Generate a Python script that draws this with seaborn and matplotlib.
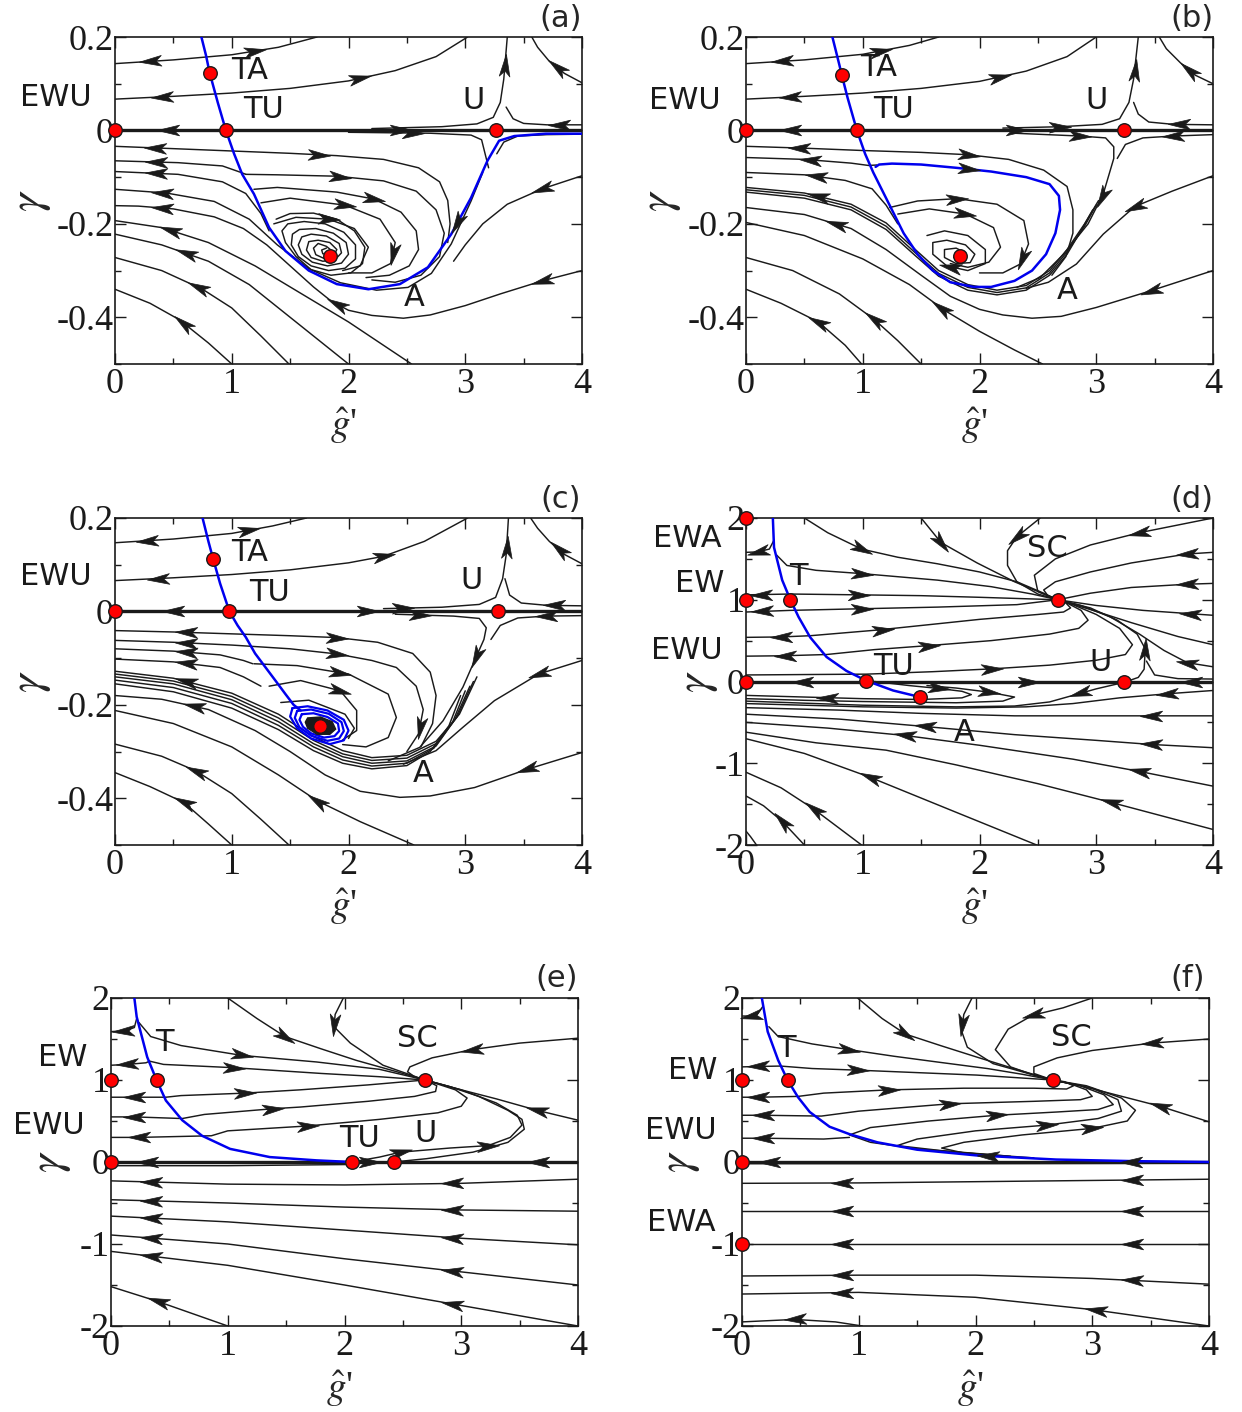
import numpy as np
import pandas as pd
import matplotlib
matplotlib.use("Agg")
import matplotlib.pyplot as plt
import seaborn as sns
from matplotlib.markers import MarkerStyle
from matplotlib.path import Path
from matplotlib.transforms import Affine2D
from matplotlib.ticker import MultipleLocator

sns.set_theme(style="ticks")
plt.rcParams["font.family"] = ["DejaVu Sans"]
plt.rcParams["mathtext.fontset"] = "stix"
plt.rcParams["axes.edgecolor"] = "black"

# ---------------------------------------------------------------- data
# each line: (points, arrows) ; arrow = (x, y, +1 along point order / -1 against)
X_TICKS = [0, 1, 2, 3, 4]
X_TICK_LABELS = ["0", "1", "2", "3", "4"]
Y_TICKS_SMALL = [-0.4, -0.2, 0, 0.2]
Y_TICK_LABELS_SMALL = ["-0.4", "-0.2", "0", "0.2"]
Y_TICKS_BIG = [-2, -1, 0, 1, 2]
Y_TICK_LABELS_BIG = ["-2", "-1", "0", "1", "2"]

# ---------------- panel (a)
A_FIXED_X = [0, 0.95, 0.81, 3.26, 1.84]
A_FIXED_Y = [0, 0, 0.124, 0, -0.268]
A_BLUE = [(0.74, 0.2), (0.78, 0.16), (0.81, 0.124), (0.88, 0.06), (0.95, 0), (1.02, -0.05), (1.09, -0.094),
          (1.19, -0.136), (1.32, -0.208), (1.46, -0.258), (1.66, -0.30), (1.9, -0.329), (2.17, -0.34),
          (2.44, -0.329), (2.68, -0.293), (2.88, -0.222), (3.05, -0.144), (3.19, -0.065), (3.29, -0.022),
          (3.42, -0.012), (3.69, -0.007), (4.0, -0.007)]
A_BLUE_ARROWS = [(2.93, -0.197, -1)]
A_AXIS = [([(0, 0), (4, 0)], [(0.45, 0, -1), (2.45, 0, 1)])]
A_SPIRAL = [(1.38, -0.19), (1.5, -0.178), (1.7, -0.177), (1.9, -0.19), (2.05, -0.215), (2.14, -0.25),
            (2.12, -0.285), (2.02, -0.305), (1.85, -0.31), (1.68, -0.298), (1.55, -0.27), (1.46, -0.24),
            (1.43, -0.215), (1.48, -0.2), (1.62, -0.195), (1.8, -0.2), (1.96, -0.218), (2.06, -0.245),
            (2.06, -0.275), (1.97, -0.295), (1.83, -0.3), (1.68, -0.29), (1.57, -0.27), (1.51, -0.245),
            (1.52, -0.222), (1.58, -0.212), (1.72, -0.21), (1.87, -0.22), (1.98, -0.24), (2.0, -0.265),
            (1.94, -0.284), (1.82, -0.29), (1.69, -0.282), (1.6, -0.265), (1.57, -0.245), (1.6, -0.228),
            (1.68, -0.222), (1.81, -0.226), (1.92, -0.242), (1.94, -0.262), (1.88, -0.278), (1.78, -0.28),
            (1.68, -0.272), (1.64, -0.256), (1.66, -0.238), (1.74, -0.235), (1.84, -0.24), (1.9, -0.255),
            (1.87, -0.27), (1.79, -0.274), (1.72, -0.266), (1.7, -0.252), (1.74, -0.242), (1.81, -0.248),
            (1.86, -0.258), (1.83, -0.266), (1.78, -0.264), (1.77, -0.256), (1.81, -0.252)]
A_LINES = [
    ([(0, 0.143), (0.5, 0.151), (1.0, 0.162), (1.4, 0.178), (1.73, 0.2)], [(0.3, 0.147, -1), (1.2, 0.17, 1)]),
    ([(0, 0.067), (0.5, 0.073), (1.0, 0.08), (1.5, 0.09), (2.0, 0.106), (2.4, 0.128), (2.75, 0.158), (3.02, 0.2)],
     [(0.4, 0.072, -1), (2.1, 0.11, 1)]),
    ([(2.2, 0.004), (2.8, 0.008), (3.1, 0.014), (3.24, 0.028), (3.3, 0.06), (3.33, 0.11), (3.36, 0.2)],
     [(3.34, 0.14, 1)]),
    ([(4, 0.012), (3.7, 0.012), (3.5, 0.015), (3.41, 0.025), (3.35, 0.05)], [(3.8, 0.012, 1)]),
    ([(2.0, -0.004), (2.7, -0.006), (3.05, -0.01), (3.14, -0.02), (3.17, -0.05), (3.2, -0.08)], [(2.55, -0.006, 1)]),
    ([(4, -0.008), (3.7, -0.009), (3.45, -0.012), (3.33, -0.025), (3.27, -0.05)], []),
    ([(4, 0.102), (3.85, 0.122), (3.72, 0.148), (3.62, 0.178), (3.57, 0.2)], [(3.78, 0.133, 1)]),
    ([(4, -0.097), (3.66, -0.125), (3.36, -0.158), (3.15, -0.2), (3.0, -0.245), (2.9, -0.28)], [(3.66, -0.125, 1)]),
    ([(4, -0.30), (3.66, -0.322), (3.3, -0.35), (3.0, -0.375), (2.7, -0.395), (2.47, -0.402), (2.2, -0.396),
      (2.0, -0.385), (1.85, -0.365), (1.7, -0.335), (1.5, -0.29), (1.3, -0.245), (1.1, -0.21), (0.85, -0.185),
      (0.5, -0.168), (0.2, -0.162), (0, -0.161)], [(3.66, -0.322, 1), (1.9, -0.372, 1), (0.4, -0.166, 1)]),
    ([(0, -0.126), (0.44, -0.134), (0.85, -0.152), (1.15, -0.19), (1.39, -0.245), (1.66, -0.296), (1.93, -0.326),
      (2.24, -0.342), (2.51, -0.336), (2.71, -0.306), (2.88, -0.243), (3.05, -0.151), (3.15, -0.09)],
     [(0.4, -0.133, -1)]),
    ([(0, -0.088), (0.54, -0.094), (0.92, -0.11), (1.12, -0.135), (1.25, -0.178), (1.32, -0.215)], [(0.35, -0.092, -1)]),
    ([(0, -0.065), (0.54, -0.069), (0.92, -0.076), (1.08, -0.09), (1.12, -0.094)], [(0.35, -0.067, -1)]),
    ([(0, -0.034), (0.5, -0.039), (1.0, -0.044), (1.5, -0.049), (1.9, -0.054), (2.3, -0.062), (2.6, -0.08),
      (2.78, -0.11), (2.85, -0.15), (2.87, -0.2), (2.85, -0.24)], [(0.34, -0.037, -1), (1.75, -0.052, 1)]),
    ([(1.12, -0.094), (1.39, -0.095), (1.9, -0.098), (2.3, -0.108), (2.58, -0.13), (2.75, -0.17), (2.82, -0.22),
      (2.78, -0.27), (2.62, -0.31), (2.4, -0.325), (2.2, -0.32)], [(1.93, -0.098, 1)]),
    ([(1.19, -0.126), (1.39, -0.122), (1.9, -0.132), (2.22, -0.147), (2.45, -0.175), (2.58, -0.215), (2.6, -0.255),
      (2.52, -0.29), (2.35, -0.31), (2.15, -0.315)], [(2.22, -0.147, 1)]),
    ([(1.25, -0.155), (1.5, -0.145), (1.97, -0.16), (2.27, -0.19), (2.4, -0.24), (2.36, -0.285), (2.2, -0.305),
      (2.0, -0.305)], [(1.97, -0.16, 1), (2.37, -0.265, 1)]),
    ([(1.36, -0.2), (1.55, -0.186), (1.83, -0.19), (2.05, -0.21), (2.17, -0.25), (2.1, -0.29), (1.95, -0.3)],
     [(1.83, -0.19, 1)]),
    (A_SPIRAL, []),
    ([(0, -0.193), (0.4, -0.208), (0.8, -0.24), (1.2, -0.29), (1.6, -0.35), (2.0, -0.41), (2.3, -0.46), (2.54, -0.5)],
     [(0.47, -0.212, -1)]),
    ([(0, -0.222), (0.4, -0.245), (0.8, -0.28), (1.15, -0.33), (1.45, -0.39), (1.75, -0.45), (2.0, -0.5)],
     [(0.61, -0.26, -1)]),
    ([(0, -0.272), (0.4, -0.30), (0.75, -0.34), (1.0, -0.38), (1.25, -0.44), (1.49, -0.5)], [(0.71, -0.335, -1)]),
    ([(0, -0.34), (0.3, -0.37), (0.55, -0.405), (0.8, -0.455), (1.0, -0.5)], [(0.59, -0.41, -1)]),
]
A_LABELS = [("TA", 1.15, 0.129), ("TU", 1.27, 0.044), ("U", 3.07, 0.065), ("EWU", -0.51, 0.071), ("A", 2.56, -0.357)]

# ---------------- panel (b)
B_FIXED_X = [0, 0.95, 0.82, 3.24, 1.83]
B_FIXED_Y = [0, 0, 0.119, 0, -0.268]
B_BLUE = [(0.74, 0.2), (0.8, 0.14), (0.82, 0.119), (0.87, 0.07), (0.95, 0), (1.02, -0.05), (1.09, -0.09),
          (1.17, -0.13), (1.25, -0.17), (1.35, -0.22), (1.47, -0.265), (1.6, -0.3), (1.75, -0.325), (1.95, -0.335),
          (2.1, -0.335), (2.3, -0.322), (2.45, -0.3), (2.57, -0.265), (2.65, -0.22), (2.69, -0.17), (2.68, -0.14),
          (2.6, -0.115), (2.4, -0.1), (2.1, -0.088), (1.8, -0.08), (1.5, -0.073), (1.25, -0.071), (1.14, -0.073),
          (1.11, -0.078)]
B_BLUE_ARROWS = [(1.91, -0.082, -1)]
B_AXIS = [([(0, 0), (4, 0)], [(0.38, 0, -1), (2.32, 0, 1)])]
B_LINES = [
    ([(0, 0.143), (0.5, 0.151), (1.0, 0.163), (1.4, 0.182), (1.65, 0.2)], [(0.31, 0.148, -1), (1.16, 0.17, 1)]),
    ([(0, 0.067), (0.5, 0.073), (1.0, 0.08), (1.5, 0.09), (2.0, 0.105), (2.4, 0.127), (2.75, 0.158), (3.0, 0.2)],
     [(0.38, 0.072, -1), (2.18, 0.113, 1)]),
    ([(2.2, 0.005), (2.7, 0.008), (3.05, 0.013), (3.2, 0.025), (3.28, 0.06), (3.32, 0.11), (3.36, 0.2)],
     [(2.69, 0.008, 1), (3.33, 0.13, 1)]),
    ([(4, 0.012), (3.66, 0.013), (3.45, 0.018), (3.36, 0.035), (3.32, 0.06)], [(3.71, 0.013, 1)]),
    ([(2.3, -0.006), (2.86, -0.012), (3.08, -0.016), (3.15, -0.035), (3.15, -0.06), (3.06, -0.136), (2.93, -0.2),
      (2.72, -0.265), (2.52, -0.315), (2.32, -0.336)], [(2.86, -0.012, 1), (3.05, -0.143, 1)]),
    ([(4, -0.009), (3.66, -0.012), (3.4, -0.016), (3.25, -0.03), (3.18, -0.06)], [(3.66, -0.012, 1)]),
    ([(4, 0.1), (3.85, 0.118), (3.72, 0.145), (3.6, 0.175), (3.54, 0.2)], [(3.78, 0.126, 1)]),
    ([(4, -0.097), (3.65, -0.13), (3.33, -0.163), (3.06, -0.222), (2.83, -0.286), (2.59, -0.325), (2.4, -0.338)],
     [(3.33, -0.163, 1)]),
    ([(4, -0.3), (3.47, -0.343), (3.0, -0.379), (2.7, -0.398), (2.45, -0.402), (2.2, -0.395), (2.0, -0.383),
      (1.75, -0.355), (1.5, -0.31), (1.2, -0.255), (0.9, -0.21), (0.5, -0.18), (0, -0.165)],
     [(3.47, -0.343, 1), (0.77, -0.2, 1)]),
    ([(0, -0.197), (0.5, -0.225), (1.0, -0.275), (1.4, -0.33), (1.7, -0.385), (2.0, -0.43), (2.3, -0.47), (2.54, -0.5)],
     [(1.67, -0.38, -1)]),
    ([(0, -0.272), (0.4, -0.3), (0.8, -0.35), (1.1, -0.405), (1.3, -0.45), (1.5, -0.5)], [(1.09, -0.405, -1)]),
    ([(0, -0.34), (0.3, -0.37), (0.62, -0.41), (0.85, -0.46), (0.99, -0.5)], [(0.62, -0.41, -1)]),
    ([(0, -0.034), (0.5, -0.038), (1.0, -0.043), (1.5, -0.047), (1.9, -0.052), (2.25, -0.062), (2.55, -0.085),
      (2.75, -0.12), (2.8, -0.17), (2.8, -0.22), (2.74, -0.27), (2.62, -0.31)], [(0.45, -0.038, -1), (1.91, -0.052, 1)]),
    ([(0, -0.058), (0.5, -0.062), (0.9, -0.07), (1.05, -0.075), (1.12, -0.074)], [(0.55, -0.062, -1)]),
    ([(0, -0.09), (0.5, -0.095), (0.85, -0.107), (1.08, -0.125), (1.2, -0.16), (1.3, -0.2)], [(0.6, -0.097, -1)]),
    ([(0, -0.122), (0.5, -0.134), (0.9, -0.158), (1.2, -0.198), (1.45, -0.255), (1.65, -0.3), (1.9, -0.33),
      (2.15, -0.342), (2.4, -0.332), (2.6, -0.3), (2.75, -0.255), (2.9, -0.2), (3.02, -0.15)], [(0.62, -0.14, -1)]),
    ([(0, -0.127), (0.5, -0.139), (0.9, -0.164), (1.2, -0.205), (1.45, -0.262), (1.65, -0.306), (1.9, -0.336),
      (2.15, -0.347), (2.4, -0.337), (2.6, -0.305), (2.75, -0.26), (2.9, -0.205), (3.0, -0.16)], []),
    ([(0, -0.132), (0.5, -0.145), (0.9, -0.17), (1.2, -0.212), (1.45, -0.268), (1.65, -0.312), (1.9, -0.342),
      (2.15, -0.352), (2.4, -0.342), (2.6, -0.31), (2.75, -0.265), (2.88, -0.21), (2.97, -0.17)], []),
    ([(1.23, -0.165), (1.47, -0.151), (1.81, -0.146), (2.15, -0.158), (2.38, -0.193), (2.42, -0.243), (2.35, -0.286),
      (2.2, -0.305), (2.0, -0.305)], [(1.81, -0.146, 1), (2.37, -0.275, 1)]),
    ([(1.3, -0.179), (1.57, -0.168), (1.88, -0.179), (2.12, -0.208), (2.18, -0.25), (2.08, -0.282), (1.9, -0.293),
      (1.75, -0.285)], [(1.88, -0.179, 1)]),
    ([(1.55, -0.225), (1.7, -0.215), (1.9, -0.225), (2.05, -0.255), (2.05, -0.285), (1.9, -0.3), (1.72, -0.29),
      (1.6, -0.265), (1.6, -0.24), (1.72, -0.235), (1.88, -0.245), (1.96, -0.265), (1.92, -0.283), (1.8, -0.285),
      (1.7, -0.272), (1.7, -0.255), (1.8, -0.252), (1.88, -0.262), (1.85, -0.275), (1.78, -0.272)],
     [(1.75, -0.29, 1)]),
]
B_LABELS = [("TA", 1.14, 0.134), ("TU", 1.26, 0.044), ("U", 3.0, 0.065), ("EWU", -0.52, 0.065), ("A", 2.75, -0.342)]

# ---------------- panel (c)
C_FIXED_X = [0, 0.98, 0.84, 3.28, 1.76]
C_FIXED_Y = [0, 0, 0.113, 0, -0.246]
C_BLUE = [(0.75, 0.2), (0.8, 0.15), (0.84, 0.113), (0.9, 0.06), (0.98, 0), (1.05, -0.03), (1.12, -0.055),
          (1.2, -0.09), (1.29, -0.12), (1.38, -0.15), (1.46, -0.177), (1.53, -0.2), (1.59, -0.212)]
C_BLUE_LOOPS = [
    [(1.52, -0.207), (1.65, -0.203), (1.82, -0.212), (1.96, -0.232), (2.0, -0.255), (1.96, -0.276), (1.84, -0.284),
     (1.68, -0.272), (1.56, -0.25), (1.5, -0.225), (1.52, -0.207)],
    [(1.56, -0.213), (1.68, -0.21), (1.83, -0.219), (1.94, -0.237), (1.96, -0.256), (1.92, -0.272), (1.82, -0.277),
     (1.68, -0.266), (1.58, -0.248), (1.54, -0.228), (1.56, -0.213)],
    [(1.6, -0.22), (1.7, -0.218), (1.82, -0.226), (1.91, -0.24), (1.92, -0.256), (1.88, -0.267), (1.79, -0.27),
     (1.68, -0.261), (1.61, -0.247), (1.58, -0.232), (1.6, -0.22)],
]
C_CORE = [(1.65, -0.228), (1.76, -0.226), (1.86, -0.236), (1.89, -0.252), (1.84, -0.263), (1.73, -0.263),
          (1.65, -0.25), (1.63, -0.237), (1.65, -0.228)]
C_AXIS = [([(0, 0), (4, 0)], [(0.5, 0, -1), (2.17, 0, 1)])]
C_LINES = [
    ([(0, 0.147), (0.5, 0.155), (1.0, 0.167), (1.35, 0.183), (1.64, 0.2)], [(0.27, 0.151, -1), (1.15, 0.172, 1)]),
    ([(0, 0.066), (0.5, 0.072), (1.0, 0.079), (1.5, 0.089), (2.0, 0.104), (2.3, 0.118), (2.65, 0.15), (3.02, 0.2)],
     [(0.37, 0.071, -1), (2.3, 0.118, 1)]),
    ([(2.3, 0.006), (2.8, 0.009), (3.12, 0.015), (3.26, 0.03), (3.32, 0.07), (3.35, 0.12), (3.37, 0.2)],
     [(2.47, 0.008, 1), (3.36, 0.138, 1)]),
    ([(4, 0.012), (3.7, 0.013), (3.48, 0.018), (3.38, 0.035), (3.34, 0.07)], [(3.76, 0.013, 1)]),
    ([(2.4, -0.006), (2.9, -0.01), (3.12, -0.015), (3.18, -0.035), (3.16, -0.06), (3.08, -0.105), (2.98, -0.162),
      (2.81, -0.234), (2.61, -0.291), (2.34, -0.32)], [(2.61, -0.008, 1), (3.1, -0.098, 1)]),
    ([(4, -0.009), (3.69, -0.01), (3.45, -0.014), (3.3, -0.03), (3.22, -0.06)], [(3.69, -0.01, 1)]),
    ([(4, 0.102), (3.85, 0.122), (3.72, 0.15), (3.62, 0.178), (3.56, 0.2)], [(3.78, 0.127, 1)]),
    ([(4, -0.105), (3.63, -0.134), (3.25, -0.191), (2.98, -0.248), (2.75, -0.298), (2.47, -0.327)],
     [(3.63, -0.134, 1)]),
    ([(4, -0.302), (3.53, -0.338), (3.08, -0.377), (2.7, -0.395), (2.44, -0.398), (2.1, -0.385), (1.8, -0.35),
      (1.5, -0.3), (1.2, -0.255), (0.8, -0.21), (0.4, -0.188), (0, -0.18)], [(3.53, -0.338, 1), (0.68, -0.2, 1)]),
    ([(0, -0.212), (0.5, -0.24), (1.0, -0.29), (1.4, -0.35), (1.73, -0.405), (2.1, -0.45), (2.56, -0.5)],
     [(1.73, -0.405, -1)]),
    ([(0, -0.284), (0.4, -0.31), (0.69, -0.341), (1.0, -0.39), (1.25, -0.445), (1.49, -0.5)], [(0.69, -0.341, -1)]),
    ([(0, -0.345), (0.3, -0.375), (0.59, -0.409), (0.8, -0.455), (1.0, -0.5)], [(0.59, -0.409, -1)]),
    ([(0, -0.041), (0.5, -0.044), (1.0, -0.048), (1.5, -0.052), (1.9, -0.056), (2.25, -0.066), (2.55, -0.09),
      (2.7, -0.13), (2.75, -0.18), (2.72, -0.24), (2.62, -0.29)], [(0.61, -0.044, -1), (1.9, -0.056, 1)]),
    ([(0, -0.062), (0.5, -0.066), (1.0, -0.072), (1.5, -0.08), (1.9, -0.091), (2.2, -0.105), (2.41, -0.12),
      (2.58, -0.16), (2.64, -0.21), (2.6, -0.262), (2.5, -0.3)], [(0.61, -0.065, -1), (1.9, -0.091, 1), (2.6, -0.25, 1)]),
    ([(0, -0.08), (0.5, -0.085), (0.9, -0.093), (1.1, -0.105), (1.18, -0.112)], [(0.61, -0.085, -1)]),
    ([(0, -0.102), (0.5, -0.108), (0.9, -0.12), (1.1, -0.14), (1.25, -0.16)], [(0.61, -0.108, -1)]),
    ([(1.19, -0.112), (1.56, -0.116), (2.0, -0.134), (2.34, -0.177), (2.41, -0.227), (2.34, -0.27), (2.15, -0.29),
      (1.95, -0.285)], [(1.93, -0.13, 1)]),
    ([(1.32, -0.16), (1.59, -0.148), (1.93, -0.17), (2.07, -0.212), (2.07, -0.255), (1.95, -0.275)],
     [(1.93, -0.17, 1)]),
    ([(1.42, -0.195), (1.66, -0.19), (1.97, -0.22), (2.05, -0.25), (2.0, -0.272)], []),
    ([(0, -0.128), (0.5, -0.143), (1.0, -0.175), (1.4, -0.22), (1.7, -0.268), (1.95, -0.298), (2.2, -0.313),
      (2.5, -0.308), (2.75, -0.278), (2.95, -0.22), (3.1, -0.14)], [(0.61, -0.146, -1)]),
    ([(0, -0.134), (0.5, -0.149), (1.0, -0.182), (1.4, -0.228), (1.7, -0.276), (1.95, -0.305), (2.2, -0.319),
      (2.5, -0.314), (2.75, -0.283), (2.93, -0.226), (3.07, -0.15)], []),
    ([(0, -0.14), (0.5, -0.155), (1.0, -0.189), (1.4, -0.236), (1.7, -0.283), (1.95, -0.311), (2.2, -0.325),
      (2.5, -0.32), (2.75, -0.288), (2.91, -0.232), (3.04, -0.16)], []),
    ([(0, -0.147), (0.5, -0.163), (1.0, -0.197), (1.4, -0.244), (1.7, -0.29), (1.95, -0.318), (2.2, -0.331),
      (2.5, -0.325), (2.73, -0.293), (2.89, -0.238), (3.0, -0.17)], []),
    ([(0, -0.155), (0.5, -0.172), (1.0, -0.207), (1.4, -0.253), (1.7, -0.298), (1.95, -0.325), (2.2, -0.337),
      (2.5, -0.33), (2.7, -0.3), (2.86, -0.245), (2.96, -0.18)], []),
]
C_LABELS = [("TA", 1.15, 0.127), ("TU", 1.32, 0.041), ("U", 3.05, 0.067), ("EWU", -0.51, 0.074), ("A", 2.64, -0.346)]

# ---------------- panel (d)
D_FIXED_X = [0, 0, 0.38, 0, 1.03, 1.49, 2.67, 3.24]
D_FIXED_Y = [2, 1, 1, 0, 0.01, -0.19, 1, -0.01]
D_BLUE = [(0.23, 2.0), (0.24, 1.64), (0.31, 1.24), (0.38, 1.0), (0.45, 0.79), (0.55, 0.54), (0.69, 0.30),
          (0.86, 0.13), (1.03, 0.01), (1.26, -0.11), (1.49, -0.19)]
D_BLUE_ARROWS = []
D_AXIS = [([(0, 0), (4, 0)], [(0.48, 0, -1), (2.42, 0, 1), (3.81, 0, -1)])]
D_LINES = [
    ([(0.24, 1.73), (0.2, 1.62), (0.1, 1.585), (0, 1.58)], [(0.1, 1.585, 1)]),
    ([(0.5, 2.0), (0.7, 1.82), (0.99, 1.62), (1.3, 1.52), (1.64, 1.44), (2.0, 1.34), (2.32, 1.22), (2.55, 1.08),
      (2.67, 1.0)], [(0.99, 1.62, 1)]),
    ([(0.26, 1.55), (0.35, 1.42), (0.6, 1.36), (0.99, 1.32), (1.64, 1.24), (2.1, 1.16), (2.45, 1.07), (2.67, 1.0)],
     [(0.99, 1.32, 1)]),
    ([(0, 1.06), (0.38, 1.07), (0.97, 1.06), (1.5, 1.05), (2.0, 1.03), (2.67, 1.0)], [(0.13, 1.065, -1), (0.97, 1.06, 1)]),
    ([(0, 0.85), (0.38, 0.87), (0.99, 0.89), (1.64, 0.91), (2.32, 0.94), (2.67, 1.0)], [(0.14, 0.855, -1), (0.99, 0.89, 1)]),
    ([(0, 0.54), (0.3, 0.545), (0.55, 0.56), (1.13, 0.63), (1.6, 0.7), (2.0, 0.76), (2.5, 0.82), (2.72, 0.85),
      (2.78, 0.9), (2.74, 0.96), (2.67, 1.0)], [(0.3, 0.545, -1), (1.17, 0.635, 1)]),
    ([(0, 0.31), (0.33, 0.315), (0.69, 0.33), (1.1, 0.39), (1.57, 0.44), (2.1, 0.5), (2.6, 0.58), (2.85, 0.65),
      (2.93, 0.75), (2.87, 0.87), (2.75, 0.96), (2.67, 1.0)], [(0.33, 0.315, -1), (1.57, 0.44, 1)]),
    ([(0, 0.08), (0.5, 0.085), (1.03, 0.09), (1.6, 0.12), (2.11, 0.155), (2.6, 0.2), (3.0, 0.26), (3.25, 0.33),
      (3.31, 0.45), (3.2, 0.65), (3.0, 0.82), (2.8, 0.94), (2.67, 1.0)], [(2.11, 0.155, 1)]),
    ([(3.26, 0.0), (3.36, 0.05), (3.41, 0.15), (3.42, 0.4), (3.35, 0.58), (3.18, 0.75), (2.95, 0.9), (2.67, 1.0)],
     [(3.42, 0.4, 1)]),
    ([(4, 0.03), (3.7, 0.035), (3.5, 0.08), (3.43, 0.25)], []),
    ([(4, 0.18), (3.78, 0.23), (3.58, 0.38), (3.37, 0.58), (3.12, 0.79), (2.87, 0.93), (2.67, 1.0)], [(3.78, 0.23, 1)]),
    ([(4, 0.45), (3.7, 0.55), (3.3, 0.72), (2.95, 0.88), (2.67, 1.0)], []),
    ([(4, 0.81), (3.8, 0.83), (3.4, 0.87), (3.0, 0.93), (2.67, 1.0)], [(3.8, 0.83, 1)]),
    ([(4, 1.2), (3.78, 1.19), (3.3, 1.15), (2.95, 1.08), (2.67, 1.0)], [(3.78, 1.19, 1)]),
    ([(4, 1.58), (3.78, 1.56), (3.3, 1.45), (2.95, 1.34), (2.65, 1.22), (2.55, 1.12), (2.59, 1.04), (2.67, 1.0)],
     [(3.78, 1.56, 1)]),
    ([(4, 2.0), (3.37, 1.82), (2.95, 1.67), (2.65, 1.5), (2.47, 1.3), (2.5, 1.1), (2.67, 1.0)], [(3.37, 1.82, 1)]),
    ([(2.52, 2.0), (2.32, 1.77), (2.24, 1.6), (2.24, 1.42), (2.32, 1.22), (2.5, 1.07), (2.67, 1.0)], [(2.32, 1.77, 1)]),
    ([(1.5, 2.0), (1.67, 1.7), (1.98, 1.45), (2.3, 1.22), (2.67, 1.0)], [(1.67, 1.7, 1)]),
    ([(1.1, 0.0), (1.4, -0.05), (1.65, -0.085), (1.85, -0.12), (1.93, -0.16), (1.85, -0.2), (1.5, -0.22),
      (1.0, -0.21), (0.5, -0.19), (0, -0.17)], [(1.65, -0.085, 1), (0.69, -0.198, 1)]),
    ([(1.55, -0.05), (1.8, -0.08), (2.08, -0.13), (2.3, -0.19), (2.2, -0.24), (1.8, -0.26), (1.0, -0.245),
      (0.5, -0.23), (0, -0.21)], [(2.08, -0.13, 1)]),
    ([(3.24, -0.01), (3.0, -0.09), (2.8, -0.17), (2.6, -0.25), (2.3, -0.3), (1.8, -0.31), (1.0, -0.29),
      (0.4, -0.26), (0, -0.24)], [(2.86, -0.15, 1)]),
    ([(4, -0.11), (3.61, -0.15), (3.2, -0.2), (2.8, -0.27), (2.4, -0.31), (1.8, -0.325), (1.0, -0.31), (0, -0.27)],
     [(3.61, -0.15, 1)]),
    ([(4, -0.42), (3.47, -0.42), (3.0, -0.42), (2.3, -0.42), (1.5, -0.39), (0.8, -0.35), (0, -0.32)],
     [(3.47, -0.42, 1)]),
    ([(4, -0.81), (3.47, -0.77), (3.0, -0.72), (2.3, -0.65), (1.53, -0.55), (0.8, -0.46), (0, -0.40)],
     [(3.47, -0.77, 1), (1.53, -0.55, 1)]),
    ([(4, -1.28), (3.37, -1.1), (2.8, -0.95), (2.0, -0.78), (1.36, -0.66), (0.7, -0.57), (0, -0.5)],
     [(3.37, -1.1, 1), (1.36, -0.66, 1)]),
    ([(4, -1.81), (3.13, -1.48), (2.5, -1.25), (1.8, -1.02), (1.2, -0.84), (0.6, -0.75), (0, -0.62)],
     [(3.13, -1.48, 1)]),
    ([(2.49, -2.0), (1.8, -1.6), (1.06, -1.17), (0.5, -0.88), (0, -0.7)], [(1.06, -1.17, 1)]),
    ([(0.99, -2.0), (0.58, -1.56), (0.3, -1.3), (0, -1.11)], [(0.58, -1.56, 1)]),
    ([(0.5, -2.0), (0.31, -1.71), (0.15, -1.52), (0, -1.4)], [(0.31, -1.71, 1)]),
    ([(0.09, -2.0), (0.04, -1.9), (0, -1.83)], []),
]
D_LABELS = [("EWA", -0.505, 1.755), ("EW", -0.40, 1.20), ("T", 0.445, 1.28), ("EWU", -0.505, 0.385),
            ("TU", 1.26, 0.18), ("SC", 2.58, 1.63), ("U", 3.04, 0.23), ("A", 1.87, -0.62)]

# ---------------- panel (e)
E_FIXED_X = [0, 0.39, 0, 2.06, 2.42, 2.69]
E_FIXED_Y = [1, 1, 0, 0, 0, 1]
E_BLUE = [(0.2, 2.0), (0.22, 1.77), (0.31, 1.28), (0.39, 1.0), (0.47, 0.75), (0.61, 0.51), (0.78, 0.32),
          (1.02, 0.16), (1.36, 0.06), (1.76, 0.02), (2.06, 0.0)]
E_BLUE_ARROWS = []
E_AXIS = [([(0, 0), (4, 0)], [(0.31, 0, -1), (2.22, 0, 1), (3.66, 0, -1)])]
E_LINES = [
    ([(0.22, 1.75), (0.2, 1.64), (0.12, 1.6), (0, 1.59)], [(0.1, 1.595, 1)]),
    ([(0.24, 1.7), (0.34, 1.53), (0.6, 1.42), (1.12, 1.3), (1.76, 1.22), (2.3, 1.13), (2.69, 1.0)], [(1.12, 1.3, 1)]),
    ([(1.0, 2.0), (1.25, 1.75), (1.49, 1.53), (1.8, 1.38), (2.1, 1.24), (2.45, 1.1), (2.69, 1.0)], [(1.49, 1.53, 1)]),
    ([(1.99, 2.0), (1.92, 1.8), (1.91, 1.65), (2.05, 1.45), (2.33, 1.18), (2.69, 1.0)], [(1.91, 1.67, 1)]),
    ([(0, 1.18), (0.14, 1.19), (0.3, 1.21), (0.33, 1.23)], [(0.14, 1.19, -1)]),
    ([(0.33, 1.23), (0.45, 1.19), (1.05, 1.15), (1.8, 1.08), (2.3, 1.04), (2.69, 1.0)], [(1.05, 1.15, 1)]),
    ([(0, 0.79), (0.2, 0.79), (0.47, 0.79), (0.6, 0.81), (1.15, 0.84), (1.62, 0.88), (2.2, 0.94), (2.69, 1.0)],
     [(0.2, 0.79, -1), (1.15, 0.84, 1)]),
    ([(0, 0.55), (0.2, 0.55), (0.61, 0.53), (0.8, 0.58), (1.39, 0.65), (1.62, 0.67), (2.2, 0.74), (2.6, 0.8),
      (2.78, 0.86), (2.79, 0.93), (2.69, 1.0)], [(0.2, 0.55, -1), (1.39, 0.65, 1)]),
    ([(0, 0.3), (0.24, 0.3), (0.86, 0.32), (1.0, 0.38), (1.69, 0.44), (2.3, 0.52), (2.8, 0.6), (3.0, 0.68),
      (3.05, 0.78), (2.95, 0.88), (2.8, 0.95), (2.69, 1.0)], [(0.24, 0.3, -1), (1.69, 0.44, 1)]),
    ([(2.06, 0.0), (2.3, 0.06), (2.48, 0.12), (2.9, 0.17), (3.23, 0.2), (3.42, 0.3), (3.52, 0.45), (3.48, 0.57),
      (3.3, 0.72), (3.0, 0.88), (2.69, 1.0)], [(2.48, 0.12, 1), (3.23, 0.2, 1)]),
    ([(2.42, 0.0), (2.7, 0.04), (3.1, 0.12), (3.4, 0.24), (3.54, 0.4), (3.52, 0.52), (3.4, 0.63), (3.15, 0.8),
      (2.9, 0.92), (2.69, 1.0)], []),
    ([(4, 1.51), (3.5, 1.45), (3.09, 1.37), (2.75, 1.27), (2.56, 1.16), (2.54, 1.1), (2.6, 1.04), (2.69, 1.0)],
     [(3.09, 1.37, 1)]),
    ([(4, 0.51), (3.65, 0.63), (3.3, 0.77), (3.0, 0.88), (2.69, 1.0)], [(3.65, 0.63, 1)]),
    ([(0, -0.045), (1.0, -0.045), (2.1, -0.03)], []),
    ([(0, -0.23), (1, -0.27), (2, -0.28), (3, -0.26), (4, -0.21)], [(0.34, -0.245, -1), (2.92, -0.26, -1)]),
    ([(0, -0.46), (1, -0.5), (2, -0.55), (3, -0.585), (4, -0.6)], [(0.34, -0.475, -1), (2.92, -0.58, -1)]),
    ([(0, -0.66), (1, -0.73), (2, -0.83), (3, -0.93), (4, -1.01)], [(0.34, -0.685, -1), (2.92, -0.92, -1)]),
    ([(0, -0.89), (1, -1.0), (2, -1.18), (3, -1.34), (4, -1.5)], [(0.34, -0.93, -1), (2.92, -1.33, -1)]),
    ([(0, -1.09), (1, -1.26), (2, -1.5), (3, -1.75), (4, -2.0)], [(0.34, -1.15, -1), (2.92, -1.73, -1)]),
    ([(0, -1.52), (0.4, -1.7), (1.0, -2.0)], [(0.4, -1.7, -1)]),
]
E_LABELS = [("EW", -0.41, 1.28), ("T", 0.455, 1.46), ("EWU", -0.53, 0.45), ("SC", 2.62, 1.51),
            ("TU", 2.13, 0.29), ("U", 2.69, 0.35)]

# ---------------- panel (f)
F_FIXED_X = [0, 0.39, 0, 0, 2.66]
F_FIXED_Y = [1, 1, 0, -1, 1]
F_BLUE = [(0.17, 2.0), (0.22, 1.59), (0.31, 1.24), (0.39, 1.0), (0.48, 0.79), (0.58, 0.61), (0.75, 0.43),
          (0.92, 0.34), (1.16, 0.24), (1.5, 0.15), (2.01, 0.08), (2.69, 0.03), (3.37, 0.01), (4.0, 0.0)]
F_BLUE_ARROWS = [(2.11, 0.08, -1)]
F_AXIS = [([(0, 0), (4, 0)], [(0.23, 0, -1), (3.33, 0, -1)])]
F_LINES = [
    ([(0.18, 1.9), (0.13, 1.8), (0.06, 1.78), (0, 1.78)], [(0.08, 1.78, 1)]),
    ([(0.23, 1.65), (0.31, 1.53), (0.6, 1.44), (0.92, 1.37), (1.3, 1.29), (1.67, 1.22), (2.1, 1.14), (2.4, 1.07),
      (2.66, 1.0)], [(0.92, 1.37, 1)]),
    ([(0.99, 2.0), (1.2, 1.75), (1.4, 1.56), (1.7, 1.42), (2.01, 1.28), (2.35, 1.13), (2.66, 1.0)], [(1.4, 1.56, 1)]),
    ([(1.97, 2.0), (1.9, 1.8), (1.88, 1.6), (1.93, 1.4), (2.15, 1.2), (2.45, 1.08), (2.66, 1.0)], [(1.88, 1.67, 1)]),
    ([(3.0, 2.0), (2.75, 1.88), (2.49, 1.79), (2.28, 1.62), (2.17, 1.37), (2.3, 1.16), (2.5, 1.06), (2.66, 1.0)],
     [(2.49, 1.79, 1)]),
    ([(4, 1.5), (3.51, 1.45), (3.0, 1.36), (2.7, 1.27), (2.5, 1.16), (2.5, 1.08), (2.66, 1.0)], [(3.51, 1.45, 1)]),
    ([(4, 0.49), (3.58, 0.68), (3.2, 0.82), (2.9, 0.93), (2.66, 1.0)], [(3.58, 0.68, 1)]),
    ([(0, 1.16), (0.14, 1.165), (0.33, 1.17), (0.6, 1.14), (0.99, 1.12), (2.01, 1.06), (2.66, 1.0)],
     [(0.14, 1.165, -1), (0.99, 1.12, 1)]),
    ([(0, 0.79), (0.14, 0.79), (0.48, 0.8), (0.7, 0.84), (1.26, 0.88), (1.9, 0.9), (2.5, 0.9), (2.78, 0.89),
      (2.84, 0.93), (2.76, 0.98), (2.66, 1.0)], [(0.14, 0.79, -1), (1.26, 0.88, 1)]),
    ([(0, 0.57), (0.18, 0.57), (0.68, 0.56), (1.0, 0.62), (1.78, 0.71), (2.5, 0.74), (2.9, 0.76), (3.0, 0.8),
      (2.95, 0.88), (2.8, 0.96), (2.66, 1.0)], [(0.18, 0.57, -1), (1.78, 0.71, 1)]),
    ([(0, 0.29), (0.18, 0.29), (0.7, 0.28), (0.92, 0.3)], [(0.18, 0.29, -1)]),
    ([(2.1, 0.09), (1.5, 0.16), (1.1, 0.24), (0.92, 0.33), (1.1, 0.42), (1.6, 0.5), (2.18, 0.57), (2.7, 0.61),
      (3.05, 0.64), (3.18, 0.7), (3.1, 0.82), (2.88, 0.94), (2.66, 1.0)], [(2.18, 0.57, 1)]),
    ([(2.3, 0.07), (1.7, 0.14), (1.33, 0.2), (1.5, 0.28), (2.0, 0.38), (2.61, 0.45), (3.05, 0.53), (3.25, 0.62),
      (3.22, 0.76), (3.0, 0.9), (2.66, 1.0)], [(2.61, 0.45, 1)]),
    ([(2.5, 0.05), (1.9, 0.11), (1.71, 0.17), (1.9, 0.24), (2.4, 0.33), (3.0, 0.41), (3.3, 0.5), (3.37, 0.63),
      (3.25, 0.78), (2.95, 0.93), (2.66, 1.0)], [(3.0, 0.41, 1)]),
    ([(0, -0.02), (2, -0.02), (4, -0.015)], []),
    ([(0, -0.26), (1, -0.255), (2, -0.24), (3, -0.225), (4, -0.21)], [(0.86, -0.255, -1), (3.34, -0.22, -1)]),
    ([(0, -0.6), (4, -0.6)], [(0.86, -0.6, -1), (3.34, -0.6, -1)]),
    ([(0, -1.0), (4, -1.0)], [(0.86, -1.0, -1), (3.34, -1.0, -1)]),
    ([(0, -1.39), (1, -1.38), (2, -1.38), (3, -1.42), (4, -1.49)], [(0.86, -1.38, -1), (3.34, -1.46, -1)]),
    ([(0, -1.61), (1, -1.59), (2, -1.65), (3, -1.8), (4, -2.0)], [(0.86, -1.59, -1), (3.03, -1.82, -1)]),
    ([(0, -1.95), (0.45, -1.92), (0.8, -1.95), (1.03, -2.0)], [(0.45, -1.92, -1)]),
]
F_LABELS = [("EW", -0.42, 1.12), ("T", 0.377, 1.39), ("EWU", -0.52, 0.39), ("EWA", -0.52, -0.74), ("SC", 2.82, 1.52)]

PANEL_TAGS = ["(a)", "(b)", "(c)", "(d)", "(e)", "(f)"]

# ---------------------------------------------------------------- helpers
FIG_W, FIG_H = 1242, 1412
ARROW_PATH = Path([(1, 0), (-1, 0.48), (-0.5, 0), (-1, -0.48), (1, 0)],
                  [Path.MOVETO, Path.LINETO, Path.LINETO, Path.LINETO, Path.CLOSEPOLY])


def draw_lines(ax, lines, lw, color, z):
    rows = []
    for k, (pts, _arr) in enumerate(lines):
        for j, (x, y) in enumerate(pts):
            rows.append((k, j, x, y))
    df = pd.DataFrame(rows, columns=["id", "j", "x", "y"])
    sns.lineplot(data=df, x="x", y="y", units="id", estimator=None, sort=False,
                 color=color, lw=lw, ax=ax, legend=False, zorder=z)


def add_arrows(ax, pts, arrows):
    P = ax.transData.transform(np.asarray(pts, float))
    for (ax_x, ax_y, d) in arrows:
        q = ax.transData.transform((ax_x, ax_y))
        best = None
        for i in range(len(P) - 1):
            a, b = P[i], P[i + 1]
            ab = b - a
            L2 = float(ab @ ab)
            if L2 == 0:
                continue
            t = np.clip(float((q - a) @ ab) / L2, 0, 1)
            pr = a + t * ab
            dist = np.hypot(*(pr - q))
            if best is None or dist < best[0]:
                best = (dist, pr, ab * d)
        _, pr, v = best
        ang = np.degrees(np.arctan2(v[1], v[0]))
        pos = ax.transData.inverted().transform(pr)
        m = MarkerStyle(ARROW_PATH, transform=Affine2D().rotate_deg(ang))
        ax.plot([pos[0]], [pos[1]], marker=m, ms=16, color="k", mec="k", mew=0.5, ls="none", zorder=5,
                clip_on=False)


def setup_axes(ax, big):
    ax.set_xlim(0, 4)
    if big:
        ax.set_ylim(-2, 2)
        ax.set_yticks(Y_TICKS_BIG, labels=Y_TICK_LABELS_BIG)
        ax.yaxis.set_minor_locator(MultipleLocator(0.5))
    else:
        ax.set_ylim(-0.5, 0.2)
        ax.set_yticks(Y_TICKS_SMALL, labels=Y_TICK_LABELS_SMALL)
        ax.yaxis.set_minor_locator(MultipleLocator(0.1))
    ax.set_xticks(X_TICKS, labels=X_TICK_LABELS)
    ax.xaxis.set_minor_locator(MultipleLocator(0.5))
    ax.tick_params(which="both", direction="in", top=True, right=True, color="k", width=1.0)
    ax.tick_params(which="major", length=8)
    ax.tick_params(which="minor", length=4)
    ax.tick_params(axis="x", which="major", pad=3)
    ax.tick_params(axis="y", which="major", pad=1)
    for lab in ax.get_xticklabels() + ax.get_yticklabels():
        lab.set_family("Liberation Serif")
        lab.set_fontsize(26)
        lab.set_color("k")
    for s in ax.spines.values():
        s.set_color("k")
        s.set_linewidth(1.2)
        s.set_visible(True)
    ax.set_xlabel("")
    ax.set_ylabel("")


# ---------------------------------------------------------------- figure
fig = plt.figure(figsize=(FIG_W / 100, FIG_H / 100), dpi=100)

boxes = [(115, 37, 467, 327), (746, 37, 467, 327),
         (115, 518, 467, 327), (746, 518, 467, 327),
         (111, 998, 467, 328), (742, 998, 467, 328)]
ylab_x = [-0.182, -0.184, -0.182, -0.103, -0.13, -0.133]

panels = [
    dict(lines=A_LINES, axis=A_AXIS, blue=A_BLUE, barr=A_BLUE_ARROWS, fx=A_FIXED_X, fy=A_FIXED_Y, labels=A_LABELS, big=False),
    dict(lines=B_LINES, axis=B_AXIS, blue=B_BLUE, barr=B_BLUE_ARROWS, fx=B_FIXED_X, fy=B_FIXED_Y, labels=B_LABELS, big=False),
    dict(lines=C_LINES, axis=C_AXIS, blue=C_BLUE, barr=[], fx=C_FIXED_X, fy=C_FIXED_Y, labels=C_LABELS, big=False),
    dict(lines=D_LINES, axis=D_AXIS, blue=D_BLUE, barr=D_BLUE_ARROWS, fx=D_FIXED_X, fy=D_FIXED_Y, labels=D_LABELS, big=True),
    dict(lines=E_LINES, axis=E_AXIS, blue=E_BLUE, barr=E_BLUE_ARROWS, fx=E_FIXED_X, fy=E_FIXED_Y, labels=E_LABELS, big=True),
    dict(lines=F_LINES, axis=F_AXIS, blue=F_BLUE, barr=F_BLUE_ARROWS, fx=F_FIXED_X, fy=F_FIXED_Y, labels=F_LABELS, big=True),
]

for k, (p, (x0, y0, w, h)) in enumerate(zip(panels, boxes)):
    ax = fig.add_axes([x0 / FIG_W, 1 - (y0 + h) / FIG_H, w / FIG_W, h / FIG_H])
    ax.set_facecolor("white")
    setup_axes(ax, p["big"])

    draw_lines(ax, p["lines"], 1.05, "k", 2)
    draw_lines(ax, p["axis"], 2.4, "k", 2)
    draw_lines(ax, [(p["blue"], [])], 1.8, "#0000ee", 3)
    if k == 2:
        draw_lines(ax, [(lp, []) for lp in C_BLUE_LOOPS], 1.6, "#0000ee", 3)
        cx, cy = zip(*C_CORE)
        ax.fill(cx, cy, color="k", zorder=3.5)
    setup_axes(ax, p["big"])

    for pts, arr in p["lines"] + p["axis"]:
        add_arrows(ax, pts, arr)
    add_arrows(ax, p["blue"], p["barr"])

    sns.scatterplot(x=p["fx"], y=p["fy"], ax=ax, color="#ff0000", edgecolor="k", linewidth=1.0,
                    s=95, zorder=6, clip_on=False, legend=False)

    for txt, tx, ty in p["labels"]:
        ax.text(tx, ty, txt, fontsize=22, ha="center", va="center", color="k", zorder=7)

    ax.text(0.955, 1.058, PANEL_TAGS[k], transform=ax.transAxes, fontsize=22, ha="center", va="center")
    ax.text(0.49, -0.19, r"$\hat{g}$'", transform=ax.transAxes, fontsize=28, ha="center", va="center",
            family="Liberation Serif")
    ax.text(ylab_x[k], 0.5, r"$\gamma$", transform=ax.transAxes, fontsize=34, ha="center", va="center",
            rotation=90)

fig.savefig("out.png", dpi=100)
